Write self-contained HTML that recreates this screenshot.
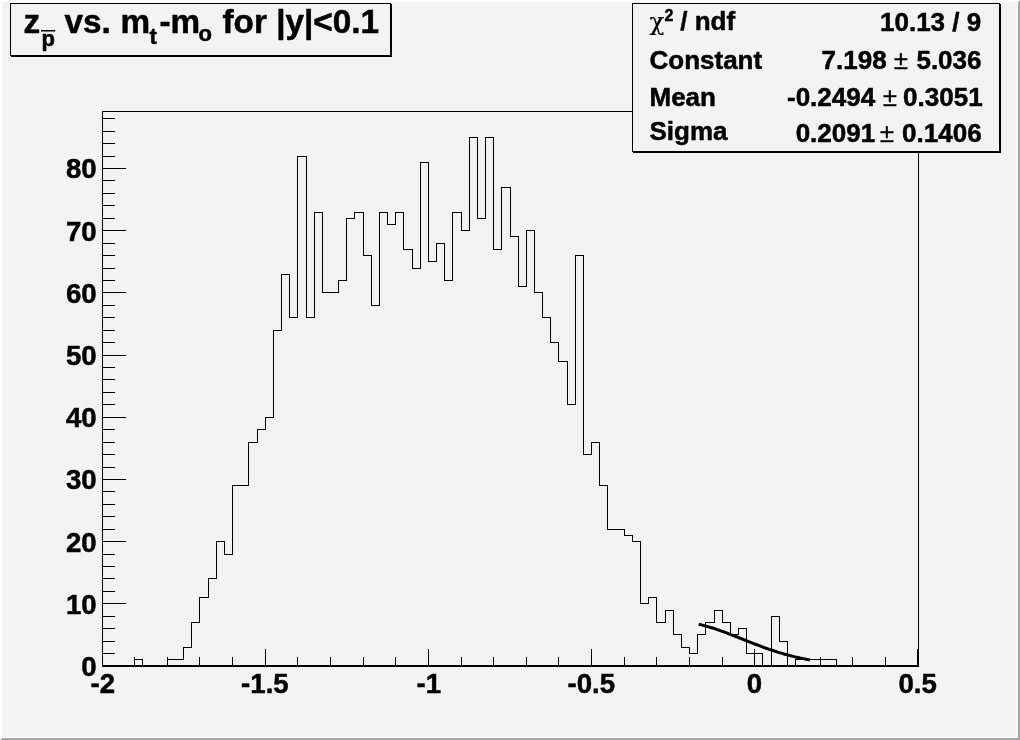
<!DOCTYPE html><html><head><meta charset="utf-8"><title>z vs. mt-mo</title>
<style>html,body{margin:0;padding:0;background:#f3f3f3;overflow:hidden}svg{display:block;will-change:transform}text{font-family:"Liberation Sans",sans-serif;font-weight:bold;fill:#000;stroke:#000;stroke-width:.5px;stroke-linejoin:round}.n{font-weight:normal;stroke-width:.25px}</style></head><body>
<svg width="1020" height="740" viewBox="0 0 1020 740">
<rect x="0" y="0" width="1020" height="740" fill="#f3f3f3"/>
<g shape-rendering="crispEdges">
<rect x="0" y="0" width="1020" height="2" fill="#fff"/><rect x="0" y="0" width="2" height="740" fill="#fff"/>
<rect x="2" y="737" width="1016" height="1" fill="#fff"/><rect x="1017" y="2" width="1" height="736" fill="#fff"/>
<polygon points="0,740 2,738 1018,738 1018,2 1020,0 1020,740" fill="#a3a3a3"/>
<rect x="102.5" y="111.5" width="816" height="555" fill="none" stroke="#000" stroke-width="1"/>
<rect x="102" y="665" width="817" height="2" fill="#000"/>
<rect x="102" y="649" width="1" height="17" fill="#000"/>
<rect x="134" y="657" width="1" height="9" fill="#000"/>
<rect x="167" y="657" width="1" height="9" fill="#000"/>
<rect x="199" y="657" width="1" height="9" fill="#000"/>
<rect x="232" y="657" width="1" height="9" fill="#000"/>
<rect x="265" y="649" width="1" height="17" fill="#000"/>
<rect x="297" y="657" width="1" height="9" fill="#000"/>
<rect x="330" y="657" width="1" height="9" fill="#000"/>
<rect x="363" y="657" width="1" height="9" fill="#000"/>
<rect x="395" y="657" width="1" height="9" fill="#000"/>
<rect x="428" y="649" width="1" height="17" fill="#000"/>
<rect x="461" y="657" width="1" height="9" fill="#000"/>
<rect x="493" y="657" width="1" height="9" fill="#000"/>
<rect x="526" y="657" width="1" height="9" fill="#000"/>
<rect x="558" y="657" width="1" height="9" fill="#000"/>
<rect x="591" y="649" width="1" height="17" fill="#000"/>
<rect x="624" y="657" width="1" height="9" fill="#000"/>
<rect x="656" y="657" width="1" height="9" fill="#000"/>
<rect x="689" y="657" width="1" height="9" fill="#000"/>
<rect x="722" y="657" width="1" height="9" fill="#000"/>
<rect x="754" y="649" width="1" height="17" fill="#000"/>
<rect x="787" y="657" width="1" height="9" fill="#000"/>
<rect x="820" y="657" width="1" height="9" fill="#000"/>
<rect x="852" y="657" width="1" height="9" fill="#000"/>
<rect x="885" y="657" width="1" height="9" fill="#000"/>
<rect x="917" y="649" width="1" height="17" fill="#000"/>
<rect x="102" y="666" width="24" height="1" fill="#000"/>
<rect x="102" y="653" width="13" height="1" fill="#000"/>
<rect x="102" y="641" width="13" height="1" fill="#000"/>
<rect x="102" y="628" width="13" height="1" fill="#000"/>
<rect x="102" y="616" width="13" height="1" fill="#000"/>
<rect x="102" y="603" width="24" height="1" fill="#000"/>
<rect x="102" y="591" width="13" height="1" fill="#000"/>
<rect x="102" y="578" width="13" height="1" fill="#000"/>
<rect x="102" y="566" width="13" height="1" fill="#000"/>
<rect x="102" y="554" width="13" height="1" fill="#000"/>
<rect x="102" y="541" width="24" height="1" fill="#000"/>
<rect x="102" y="529" width="13" height="1" fill="#000"/>
<rect x="102" y="516" width="13" height="1" fill="#000"/>
<rect x="102" y="504" width="13" height="1" fill="#000"/>
<rect x="102" y="491" width="13" height="1" fill="#000"/>
<rect x="102" y="479" width="24" height="1" fill="#000"/>
<rect x="102" y="467" width="13" height="1" fill="#000"/>
<rect x="102" y="454" width="13" height="1" fill="#000"/>
<rect x="102" y="442" width="13" height="1" fill="#000"/>
<rect x="102" y="429" width="13" height="1" fill="#000"/>
<rect x="102" y="417" width="24" height="1" fill="#000"/>
<rect x="102" y="404" width="13" height="1" fill="#000"/>
<rect x="102" y="392" width="13" height="1" fill="#000"/>
<rect x="102" y="379" width="13" height="1" fill="#000"/>
<rect x="102" y="367" width="13" height="1" fill="#000"/>
<rect x="102" y="355" width="24" height="1" fill="#000"/>
<rect x="102" y="342" width="13" height="1" fill="#000"/>
<rect x="102" y="330" width="13" height="1" fill="#000"/>
<rect x="102" y="317" width="13" height="1" fill="#000"/>
<rect x="102" y="305" width="13" height="1" fill="#000"/>
<rect x="102" y="292" width="24" height="1" fill="#000"/>
<rect x="102" y="280" width="13" height="1" fill="#000"/>
<rect x="102" y="268" width="13" height="1" fill="#000"/>
<rect x="102" y="255" width="13" height="1" fill="#000"/>
<rect x="102" y="243" width="13" height="1" fill="#000"/>
<rect x="102" y="230" width="24" height="1" fill="#000"/>
<rect x="102" y="218" width="13" height="1" fill="#000"/>
<rect x="102" y="205" width="13" height="1" fill="#000"/>
<rect x="102" y="193" width="13" height="1" fill="#000"/>
<rect x="102" y="180" width="13" height="1" fill="#000"/>
<rect x="102" y="168" width="24" height="1" fill="#000"/>
<rect x="102" y="156" width="13" height="1" fill="#000"/>
<rect x="102" y="143" width="13" height="1" fill="#000"/>
<rect x="102" y="131" width="13" height="1" fill="#000"/>
<rect x="102" y="118" width="13" height="1" fill="#000"/>
<path d="M102.5 666.5 L102.5 666.5 L110.5 666.5 L110.5 666.5 L118.5 666.5 L118.5 666.5 L126.5 666.5 L126.5 666.5 L134.5 666.5 L134.5 659.5 L142.5 659.5 L142.5 666.5 L150.5 666.5 L150.5 666.5 L159.5 666.5 L159.5 666.5 L167.5 666.5 L167.5 659.5 L175.5 659.5 L175.5 659.5 L183.5 659.5 L183.5 647.5 L191.5 647.5 L191.5 622.5 L199.5 622.5 L199.5 597.5 L208.5 597.5 L208.5 578.5 L216.5 578.5 L216.5 541.5 L224.5 541.5 L224.5 554.5 L232.5 554.5 L232.5 485.5 L240.5 485.5 L240.5 485.5 L248.5 485.5 L248.5 442.5 L257.5 442.5 L257.5 429.5 L265.5 429.5 L265.5 417.5 L273.5 417.5 L273.5 330.5 L281.5 330.5 L281.5 274.5 L289.5 274.5 L289.5 317.5 L297.5 317.5 L297.5 156.5 L306.5 156.5 L306.5 317.5 L314.5 317.5 L314.5 212.5 L322.5 212.5 L322.5 292.5 L330.5 292.5 L330.5 292.5 L338.5 292.5 L338.5 280.5 L346.5 280.5 L346.5 218.5 L354.5 218.5 L354.5 212.5 L363.5 212.5 L363.5 255.5 L371.5 255.5 L371.5 305.5 L379.5 305.5 L379.5 212.5 L387.5 212.5 L387.5 224.5 L395.5 224.5 L395.5 212.5 L403.5 212.5 L403.5 249.5 L412.5 249.5 L412.5 268.5 L420.5 268.5 L420.5 162.5 L428.5 162.5 L428.5 261.5 L436.5 261.5 L436.5 243.5 L444.5 243.5 L444.5 280.5 L452.5 280.5 L452.5 212.5 L461.5 212.5 L461.5 230.5 L469.5 230.5 L469.5 137.5 L477.5 137.5 L477.5 218.5 L485.5 218.5 L485.5 137.5 L493.5 137.5 L493.5 249.5 L501.5 249.5 L501.5 187.5 L510.5 187.5 L510.5 236.5 L518.5 236.5 L518.5 286.5 L526.5 286.5 L526.5 230.5 L534.5 230.5 L534.5 292.5 L542.5 292.5 L542.5 317.5 L550.5 317.5 L550.5 342.5 L558.5 342.5 L558.5 361.5 L567.5 361.5 L567.5 404.5 L575.5 404.5 L575.5 255.5 L583.5 255.5 L583.5 454.5 L591.5 454.5 L591.5 442.5 L599.5 442.5 L599.5 485.5 L607.5 485.5 L607.5 529.5 L616.5 529.5 L616.5 529.5 L624.5 529.5 L624.5 535.5 L632.5 535.5 L632.5 541.5 L640.5 541.5 L640.5 603.5 L648.5 603.5 L648.5 597.5 L656.5 597.5 L656.5 622.5 L665.5 622.5 L665.5 610.5 L673.5 610.5 L673.5 634.5 L681.5 634.5 L681.5 647.5 L689.5 647.5 L689.5 653.5 L697.5 653.5 L697.5 634.5 L705.5 634.5 L705.5 622.5 L714.5 622.5 L714.5 610.5 L722.5 610.5 L722.5 622.5 L730.5 622.5 L730.5 634.5 L738.5 634.5 L738.5 628.5 L746.5 628.5 L746.5 653.5 L754.5 653.5 L754.5 653.5 L762.5 653.5 L762.5 666.5 L771.5 666.5 L771.5 616.5 L779.5 616.5 L779.5 641.5 L787.5 641.5 L787.5 666.5 L795.5 666.5 L795.5 659.5 L803.5 659.5 L803.5 659.5 L811.5 659.5 L811.5 659.5 L820.5 659.5 L820.5 659.5 L828.5 659.5 L828.5 659.5 L836.5 659.5 L836.5 666.5 L844.5 666.5 L844.5 666.5 L852.5 666.5 L852.5 666.5 L860.5 666.5 L860.5 666.5 L869.5 666.5 L869.5 666.5 L877.5 666.5 L877.5 666.5 L885.5 666.5 L885.5 666.5 L893.5 666.5 L893.5 666.5 L901.5 666.5 L901.5 666.5 L909.5 666.5 L909.5 666.5 L918.5 666.5 L918.5 666.5" fill="none" stroke="#000" stroke-width="1"/>
</g>
<path d="M698.7 624.2 L700.5 624.6 L702.4 625.1 L704.2 625.6 L706.1 626.1 L707.9 626.6 L709.8 627.2 L711.6 627.7 L713.5 628.3 L715.4 628.9 L717.2 629.6 L719.1 630.2 L720.9 630.9 L722.8 631.5 L724.6 632.2 L726.5 632.9 L728.3 633.6 L730.2 634.3 L732.0 635.1 L733.9 635.8 L735.8 636.5 L737.6 637.2 L739.5 638.0 L741.3 638.7 L743.2 639.5 L745.0 640.2 L746.9 640.9 L748.7 641.7 L750.6 642.4 L752.5 643.1 L754.3 643.8 L756.2 644.5 L758.0 645.2 L759.9 645.9 L761.7 646.6 L763.6 647.3 L765.4 648.0 L767.3 648.6 L769.2 649.3 L771.0 649.9 L772.9 650.5 L774.7 651.1 L776.6 651.7 L778.4 652.3 L780.3 652.9 L782.1 653.4 L784.0 654.0 L785.8 654.5 L787.7 655.0 L789.6 655.5 L791.4 656.0 L793.3 656.4 L795.1 656.9 L797.0 657.3 L798.8 657.7 L800.7 658.1 L802.5 658.5 L804.4 658.9 L806.3 659.3 L808.1 659.6 L810.0 660.0" fill="none" stroke="#000" stroke-width="3" stroke-linejoin="round"/>
<text x="102.8" y="693" font-size="27.6" text-anchor="middle">-2</text>
<text x="264.9" y="693" font-size="27.6" text-anchor="middle">-1.5</text>
<text x="428.8" y="693" font-size="27.6" text-anchor="middle">-1</text>
<text x="591.3" y="693" font-size="27.6" text-anchor="middle">-0.5</text>
<text x="754.5" y="693" font-size="27.6" text-anchor="middle">0</text>
<text x="917.7" y="693" font-size="27.6" text-anchor="middle">0.5</text>
<text x="96.7" y="675.9" font-size="27.6" text-anchor="end">0</text>
<text x="96.7" y="613.7" font-size="27.6" text-anchor="end">10</text>
<text x="96.7" y="551.5" font-size="27.6" text-anchor="end">20</text>
<text x="96.7" y="489.3" font-size="27.6" text-anchor="end">30</text>
<text x="96.7" y="427.2" font-size="27.6" text-anchor="end">40</text>
<text x="96.7" y="365.0" font-size="27.6" text-anchor="end">50</text>
<text x="96.7" y="302.8" font-size="27.6" text-anchor="end">60</text>
<text x="96.7" y="240.6" font-size="27.6" text-anchor="end">70</text>
<text x="96.7" y="178.4" font-size="27.6" text-anchor="end">80</text>
<g shape-rendering="crispEdges"><rect x="11" y="4" width="381" height="53" fill="#000"/><rect x="10.5" y="3.5" width="380" height="52" fill="#f3f3f3" stroke="#000" stroke-width="1"/></g>
<text font-size="33.3" y="32.5">
<tspan x="23.5">z</tspan><tspan x="64.5">vs.</tspan><tspan x="120.5">m</tspan><tspan x="159.5">-m</tspan><tspan x="222.5">for |y|&lt;0.1</tspan></text>
<text font-size="22" x="41.5" y="45.8">p</text>
<rect x="41" y="30" width="14.2" height="1.5" fill="#000"/>
<text font-size="22" x="149.5" y="43.5">t</text>
<text font-size="22" x="198.5" y="40.6">o</text>
<g shape-rendering="crispEdges"><rect x="633" y="4" width="368" height="149" fill="#000"/><rect x="632.5" y="3.5" width="367" height="148" fill="#f3f3f3" stroke="#000" stroke-width="1"/></g>
<text font-size="26" y="29.8"><tspan x="649.5" class="n" style="font-family:'DejaVu Serif','Liberation Serif',serif;stroke-width:.2px" font-size="24.5">χ</tspan></text>
<text font-size="16" x="664.5" y="21.2">2</text>
<text font-size="26" x="680.2" y="29.8">/ ndf</text>
<text font-size="26" x="981.2" y="31.4" text-anchor="end">10.13 / 9</text>
<text font-size="26" x="649.5" y="69">Constant</text>
<text font-size="26" x="649.5" y="105.6">Mean</text>
<text font-size="26" x="649.5" y="139.6">Sigma</text>
<text font-size="26" y="68.7"><tspan x="886.7" text-anchor="end">7.198</tspan><tspan x="901" class="n" text-anchor="middle">±</tspan><tspan x="981.5" text-anchor="end">5.036</tspan></text>
<text font-size="26" y="105.8"><tspan x="875.2" text-anchor="end">-0.2494</tspan><tspan x="889.8" class="n" text-anchor="middle">±</tspan><tspan x="982.6" text-anchor="end">0.3051</tspan></text>
<text font-size="26" y="142.3"><tspan x="875.2" text-anchor="end">0.2091</tspan><tspan x="886.8" class="n" text-anchor="middle">±</tspan><tspan x="981.6" text-anchor="end">0.1406</tspan></text>
</svg></body></html>
